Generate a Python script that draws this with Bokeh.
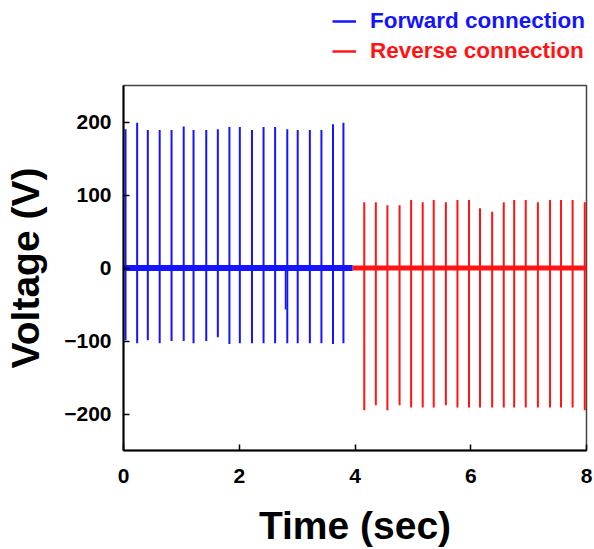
from bokeh.plotting import figure
from bokeh.layouts import column
from bokeh.models import ColumnDataSource, Range1d, FixedTicker, Legend, LegendItem
from bokeh.embed import file_html
from bokeh.resources import INLINE

# ---- data ----
fwd_times = [0.035, 0.236, 0.42, 0.625, 0.83, 1.04, 1.21, 1.43, 1.63, 1.83,
             2.01, 2.22, 2.42, 2.62, 2.83, 3.01, 3.22, 3.42, 3.62, 3.80]
fwd_peaks = [190, 199, 189, 189, 189, 194, 189, 189, 190, 193,
             193, 189, 193, 193, 190, 189, 189, 189, 197, 199]
fwd_troughs = [-99, -103, -99, -103, -100, -100, -103, -100, -95, -104,
               -103, -103, -103, -103, -103, -103, -103, -103, -104, -103]
fwd_extra_t = [2.80]
fwd_extra_v = [-57]

rev_times = [4.16, 4.36, 4.56, 4.77, 4.97, 5.17, 5.36, 5.57, 5.77, 5.97,
             6.16, 6.37, 6.57, 6.75, 6.95, 7.16, 7.37, 7.56, 7.76, 7.97]
rev_peaks = [90, 90, 86, 86, 93, 90, 93, 90, 93, 93,
             82, 77, 90, 93, 93, 90, 93, 93, 93, 90]
rev_troughs = [-195, -188, -195, -188, -191, -191, -191, -188, -191, -191,
               -191, -191, -191, -191, -191, -191, -191, -191, -191, -195]

fwd_span = [0.0, 3.96]
rev_span = [3.96, 8.0]

x_ticks = [0, 2, 4, 6, 8]
y_ticks = [-200, -100, 0, 100, 200]

series_labels = ["Forward connection", "Reverse connection"]

BLUE = "#1414ff"
RED = "#ff1414"
FONT = "Liberation Sans"

TOP_H = 75

fsrc = ColumnDataSource(dict(t=fwd_times, top=fwd_peaks, bot=fwd_troughs))
rsrc = ColumnDataSource(dict(t=rev_times, top=rev_peaks, bot=rev_troughs))

# ---- legend strip (above the plot); its ranges show none of the data ----
lp = figure(width=594, height=TOP_H, output_backend="svg", toolbar_location=None,
            x_range=Range1d(-20, -10), y_range=Range1d(1000, 1001),
            x_axis_location=None, y_axis_location=None,
            min_border=0, min_border_left=123, min_border_right=8,
            min_border_top=0, min_border_bottom=0)
lp.xgrid.visible = False
lp.ygrid.visible = False
lp.outline_line_color = None
lp.background_fill_color = "white"
lp.border_fill_color = "white"
lf = lp.segment(x0="t", y0="bot", x1="t", y1="top", source=fsrc, line_color=BLUE, line_width=2.5)
lr = lp.segment(x0="t", y0="bot", x1="t", y1="top", source=rsrc, line_color=RED, line_width=2.5)


def make_legend(label, renderer, color, y):
    return Legend(items=[LegendItem(label=label, renderers=[renderer])],
                  location=(209, y), padding=0, margin=0, spacing=0,
                  glyph_width=24, glyph_height=24, label_standoff=14,
                  border_line_color=None, background_fill_alpha=0,
                  label_text_font=FONT, label_text_font_style="bold",
                  label_text_font_size="22.5px", label_text_color=color)


lp.add_layout(make_legend(series_labels[0], lf, BLUE, 41))
lp.add_layout(make_legend(series_labels[1], lr, RED, 11))

# ---- main plot ----
p = figure(width=594, height=549 - TOP_H, output_backend="svg", toolbar_location=None,
           x_range=Range1d(0, 8), y_range=Range1d(-250, 250),
           min_border_left=123, min_border_right=8, min_border_top=85 - TOP_H,
           min_border_bottom=94)

p.xgrid.visible = False
p.ygrid.visible = False
p.outline_line_color = "#444444"
p.outline_line_width = 1.5
p.background_fill_color = "white"
p.border_fill_color = "white"

# baselines
p.segment(x0=[fwd_span[0]], y0=[0], x1=[fwd_span[1]], y1=[0], line_color=BLUE, line_width=6)
p.segment(x0=[rev_span[0]], y0=[0], x1=[rev_span[1]], y1=[0], line_color=RED, line_width=5)

p.segment(x0="t", y0="bot", x1="t", y1="top", source=fsrc, line_color=BLUE, line_width=2)
p.segment(x0=fwd_extra_t, y0=[0] * len(fwd_extra_t), x1=fwd_extra_t, y1=fwd_extra_v,
          line_color=BLUE, line_width=1.5)
p.segment(x0="t", y0="bot", x1="t", y1="top", source=rsrc, line_color=RED, line_width=2)

# axes
for ax in (p.xaxis[0], p.yaxis[0]):
    ax.major_label_text_font = FONT
    ax.major_label_text_font_style = "bold"
    ax.major_label_text_font_size = "21px"
    ax.major_label_text_color = "black"
    ax.axis_label_text_font = FONT
    ax.axis_label_text_font_style = "bold"
    ax.axis_label_text_font_size = "39px"
    ax.axis_label_text_color = "black"
    ax.major_tick_in = 6
    ax.major_tick_out = 0
    ax.minor_tick_line_color = None
    ax.axis_line_color = "black"
    ax.axis_line_width = 2
    ax.major_tick_line_color = "black"
    ax.major_tick_line_width = 1.5

p.xaxis.ticker = FixedTicker(ticks=x_ticks)
p.yaxis.ticker = FixedTicker(ticks=y_ticks)
p.xaxis.axis_label = "Time (sec)"
p.yaxis.axis_label = "Voltage (V)"
p.xaxis.major_label_standoff = 18
p.yaxis.major_label_standoff = 12
p.xaxis.axis_label_standoff = 18
p.yaxis.axis_label_standoff = 14

layout = column(lp, p, spacing=0)
open("out.html", "w").write(file_html(layout, INLINE))
